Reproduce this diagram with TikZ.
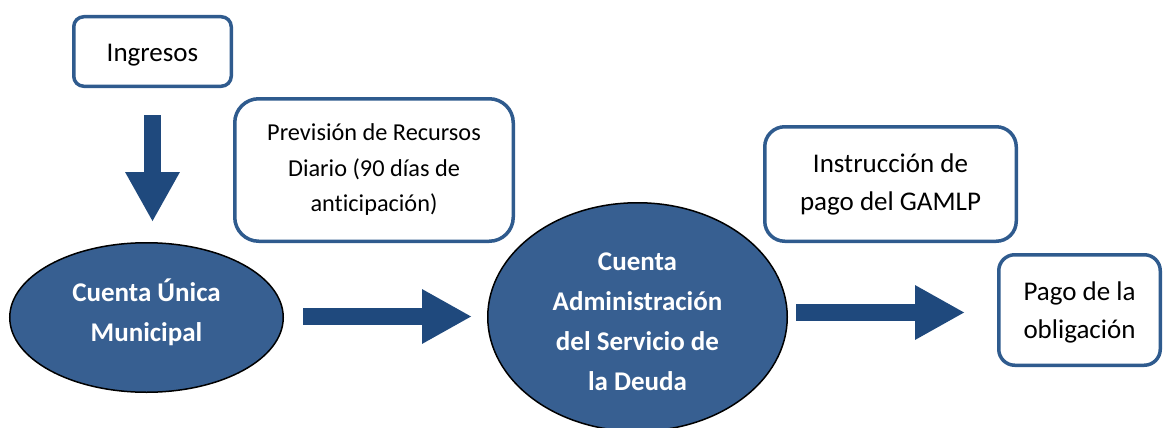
\documentclass[tikz,border=0pt]{standalone}
\usepackage{fontspec}
\setmainfont[Ligatures={NoCommon}]{Carlito}
\usetikzlibrary{shapes.geometric,arrows.meta}
\definecolor{boxblue}{HTML}{2F5B8E}
\definecolor{arrowblue}{HTML}{1F497D}
\definecolor{ellblue}{HTML}{375F91}
\tikzset{
  rbox/.style={draw=boxblue, line width=3.5pt, fill=white, inner sep=0pt},
  boxtext/.style={align=center, inner sep=0pt, font=\fontsize{27}{38}\selectfont},
  acct/.style={ellipse, draw=black, line width=1.5pt, fill=ellblue, inner sep=0pt},
  accttext/.style={text=white, align=center, inner sep=0pt, font=\bfseries\fontsize{27}{40}\selectfont},
  bigarrow/.style={draw=arrowblue, line width=17pt, -{Triangle[length=50pt,width=51pt]}, fill=arrowblue}
}
\begin{document}
\begin{tikzpicture}[x=1pt,y=-1pt]
\useasboundingbox (0,0) rectangle (1164,428);
\node[rbox, rounded corners=10pt, minimum width=157.5pt, minimum height=69.5pt] (ing) at (152.5,51.5) {};
\node[boxtext] (ingt) at (152.5,55) {Ingresos};
\node[rbox, rounded corners=24pt, minimum width=278.5pt, minimum height=142.5pt] (prev) at (374,170) {};
\node[boxtext, font=\fontsize{24.3}{35.5}\selectfont] (prevt) at (374,170) {Previsión de Recursos\\Diario (90 días de\\anticipación)};
\node[rbox, rounded corners=20pt, minimum width=251.5pt, minimum height=114.5pt] (inst) at (890.5,184) {};
\node[boxtext] (instt) at (890.5,184) {Instrucción de\\pago del GAMLP};
\node[rbox, rounded corners=16pt, minimum width=161.5pt, minimum height=110.5pt] (pago) at (1079.5,310) {};
\node[boxtext] (pagot) at (1079.5,312) {Pago de la\\obligación};
\node[acct, minimum width=273.5pt, minimum height=149.5pt] (cum) at (146.5,317.5) {};
\node[accttext] (cumt) at (146.5,312.5) {Cuenta Única\\Municipal};
\node[acct, minimum width=299.5pt, minimum height=228.5pt] (casd) at (637.5,317) {};
\node[accttext] (casdt) at (637.5,322) {Cuenta\\Administración\\del Servicio de\\la Deuda};
\coordinate (a1) at (0,316.5);
\coordinate (a2) at (0,312.5);
\draw[bigarrow, shorten <=27pt, shorten >=20pt] (ing.south) -- (ing.south |- cum.north);
\draw[bigarrow, shorten <=19pt, shorten >=15pt] (cum.east |- a1) -- (casd.west |- a1);
\draw[bigarrow, shorten <=8pt, shorten >=32pt] (casd.east |- a2) -- (pago.west |- a2);
\end{tikzpicture}
\end{document}
